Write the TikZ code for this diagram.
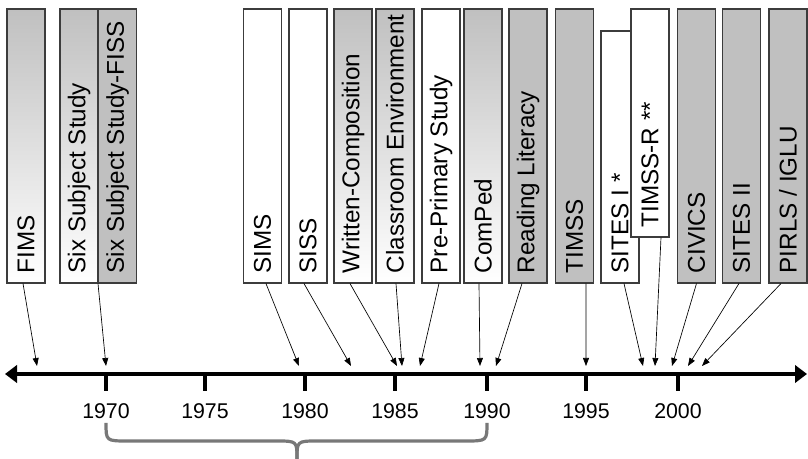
\documentclass[tikz,border=0pt]{standalone}
\usepackage{fontspec}
\setmainfont{Liberation Sans}
\usepackage{xcolor}
\definecolor{studygray}{HTML}{C0C0C0}
\definecolor{boxline}{HTML}{3C3C3C}
\definecolor{bracegray}{HTML}{787878}
\usepackage{tikz}
\usetikzlibrary{arrows.meta,calc}

\begin{document}
\begin{tikzpicture}[x=0.75pt,y=-0.75pt,
  study/.style={draw=boxline,line width=0.8pt,minimum width=28.5pt,minimum height=205.5pt,inner sep=0pt},
  grayfill/.style={fill=studygray},
  shadefill/.style={top color=studygray,bottom color=white},
  whitefill/.style={fill=white},
  studylbl/.style={rotate=90,anchor=west,inner sep=0pt,font=\fontsize{18.2}{21}\selectfont},
  link/.style={-{Triangle[length=6pt,width=4.5pt]},line width=0.5pt},
  timeline/.style={{Triangle[length=9pt,width=13pt]}-{Triangle[length=9pt,width=13pt]},line width=2.5pt},
  yeartick/.style={line width=3pt},
  yearlbl/.style={font=\fontsize{16}{19}\selectfont},
  brace/.style={bracegray,line width=2.4pt}]
\useasboundingbox (0,0) rectangle (808,459);
% study boxes
\foreach \nm/\cx/\fl/\txt in {fims/26/shadefill/FIMS, sss/79/shadefill/{Six Subject Study},
  fiss/117.5/grayfill/{Six Subject Study-FISS}, sims/262.5/whitefill/SIMS, siss/308/whitefill/SISS,
  wcs/353/shadefill/Written-Composition, ces/395/shadefill/{Classroom Environment},
  pps/441/whitefill/{Pre-Primary Study}, comped/483/shadefill/ComPed, rls/528/grayfill/{Reading Literacy},
  timss/574.5/grayfill/TIMSS, civics/696.5/grayfill/CIVICS, sites2/741.5/grayfill/{SITES II},
  pirls/788/grayfill/{PIRLS / IGLU}}{
  \node[study,\fl] (\nm) at (\cx,146) {};
  \node[studylbl] (\nm-t) at ([yshift=7.5pt]\nm.south) {\txt};
}
% the two shorter ones overlap
\node[study,whitefill,minimum height=189pt] (sites1) at (620,157) {};
\node[studylbl] (sites1-t) at ([yshift=7.5pt]sites1.south) {SITES I *};
\node[study,whitefill,minimum height=171pt] (timssr) at (650,123) {};
\node[studylbl] (timssr-t) at ([yshift=7.5pt]timssr.south) {TIMSS-R **};
% time axis
\coordinate (axl) at (5,374);
\coordinate (axr) at (807,374);
\draw[timeline] (axl) -- (axr);
\foreach \yr/\x in {1970/106,1975/205,1980/305,1985/395,1990/487,1995/586,2000/678}{
  \draw[yeartick] (\x,374) -- (\x,391);
  \node[yearlbl] (y\yr) at (\x,411) {\yr};
}
% links from boxes to years
\foreach \nm/\dx/\tx in {fims/-2.25/37, sss/14.25/106, sims/2.6/299, siss/-3/351, wcs/-2.25/397,
  ces/0.75/402, pps/-1.5/420, comped/-3/480, rls/-4.5/496, timss/8.6/586, sites1/3/643,
  timssr/8.25/655, civics/0/672, sites2/-1.9/688, pirls/-5.25/702}{
  \coordinate (tip-\nm) at (\tx,366);
  \draw[link] ([xshift=\dx pt]\nm.south) -- (tip-\nm);
}
% brace under 1970--1990
\coordinate (bl) at (106,423);
\coordinate (br) at (487,423);
\coordinate (bt) at (297,459);
\draw[brace] (bl) .. controls (106,441) .. (128,441) -- (276,441) .. controls (297,441) .. (bt);
\draw[brace] (br) .. controls (487,441) .. (465,441) -- (318,441) .. controls (297,441) .. (bt);
\end{tikzpicture}
\end{document}
